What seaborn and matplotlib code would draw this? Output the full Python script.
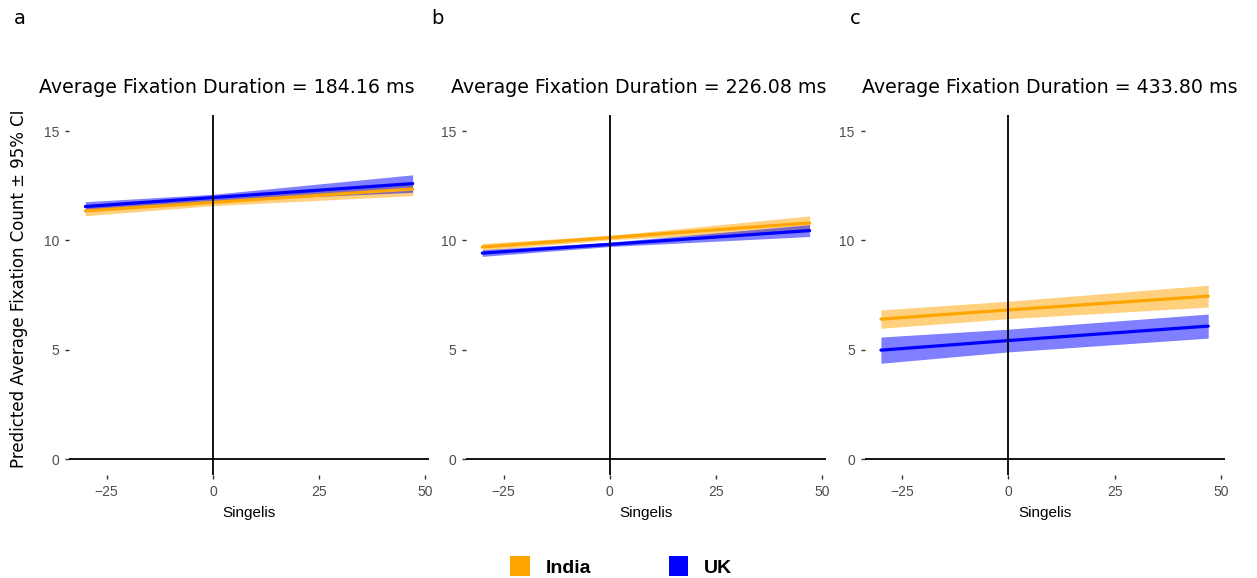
import pandas as pd
import numpy as np
import matplotlib
matplotlib.use("Agg")
import matplotlib.pyplot as plt
import seaborn as sns
from matplotlib.patches import Patch

# Values (fit and 95% CI at three Singelis values)
panel_letters = ["a", "b", "c"]
fix_durations = ["184.16", "226.08", "433.80"]
countries = ["India", "UK"]
singelis = [-30, 0, 47]

fit_india = [[11.35, 11.74, 12.35], [9.70, 10.13, 10.80], [6.40, 6.82, 7.45]]
ci_india = [[0.22, 0.15, 0.30], [0.16, 0.10, 0.32], [0.42, 0.40, 0.50]]
fit_uk = [[11.55, 11.96, 12.60], [9.42, 9.82, 10.45], [4.98, 5.42, 6.08]]
ci_uk = [[0.22, 0.15, 0.40], [0.15, 0.10, 0.27], [0.60, 0.52, 0.55]]

palette = {"India": "#FFA500", "UK": "#0000FF"}

rows = []
for p in range(3):
    for country, fits, cis in [("India", fit_india, ci_india), ("UK", fit_uk, ci_uk)]:
        for x, f, c in zip(singelis, fits[p], cis[p]):
            rows.append({"panel": p, "Country": country, "Singelis": x,
                         "fit": f, "lower": f - c, "upper": f + c})
df = pd.DataFrame(rows)

sns.set_theme(style="white")
plt.rcParams["font.family"] = ["Liberation Sans", "DejaVu Sans"]
plt.rcParams["text.color"] = "black"

fig = plt.figure(figsize=(12.57, 5.78), dpi=100)
lefts = [0.0549, 0.3707, 0.6878]
title_x = [0.180, 0.508, 0.835]
letter_x = [0.011, 0.343, 0.676]

for p in range(3):
    ax = fig.add_axes([lefts[p], 0.1775, 0.2864, 0.624])
    sub = df[df.panel == p]
    for country in countries:
        d = sub[sub.Country == country]
        ax.fill_between(d.Singelis, d.lower, d.upper, color=palette[country],
                        alpha=0.5, linewidth=0, zorder=1)
    sns.lineplot(data=sub, x="Singelis", y="fit", hue="Country", palette=palette,
                 linewidth=2.3, legend=False, ax=ax, zorder=2)
    ax.axvline(0, color="black", linewidth=1.3, zorder=3)
    ax.axhline(0, color="black", linewidth=1.3, zorder=3)
    ax.set_xlim(-33.85, 50.85)
    ax.set_ylim(-0.75, 15.75)
    ax.set_xticks([-25, 0, 25, 50])
    ax.set_xticklabels(["\u221225", "0", "25", "50"])
    ax.set_yticks([0, 5, 10, 15])
    for s in ax.spines.values():
        s.set_visible(False)
    ax.tick_params(axis="both", which="both", length=3, width=1, color="#333333",
                   labelsize=10, labelcolor="#4D4D4D", pad=4,
                   bottom=True, left=True)
    ax.set_xlabel("Singelis", fontsize=11, color="black", labelpad=5)
    ax.set_ylabel("")
    fig.text(title_x[p], 0.848, "Average Fixation Duration = %s ms" % fix_durations[p],
             fontsize=13.7, family=["DejaVu Sans"], ha="center", va="center",
             color="black")
    fig.text(letter_x[p], 0.968, panel_letters[p], fontsize=14,
             family=["DejaVu Sans"], va="center", color="black")

fig.text(0.015, 0.5, "Predicted Average Fixation Count \u00b1 95% CI", rotation=90,
         fontsize=12, family=["DejaVu Sans"], va="center", ha="center", color="black")

handles = [Patch(facecolor=palette[c], edgecolor="none", label=c) for c in countries]
fig.legend(handles=handles, loc="center", bbox_to_anchor=(0.494, 0.02), ncol=2,
           frameon=False, prop={"weight": "bold", "size": 14},
           handlelength=1.0, handleheight=1.2, columnspacing=4.0, handletextpad=0.8,
           labelcolor="black")

fig.savefig("out.png", dpi=100, facecolor="white")
